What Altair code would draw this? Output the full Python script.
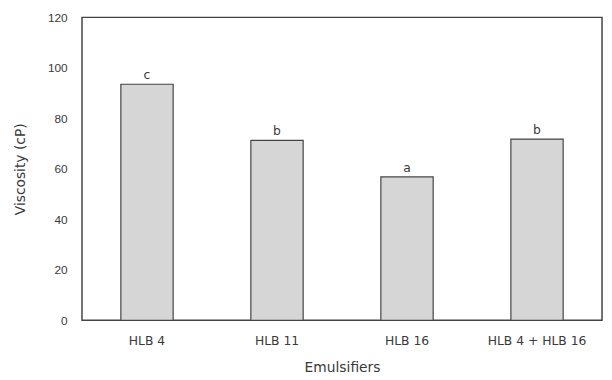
import altair as alt
import pandas as pd

categories = ["HLB 4", "HLB 11", "HLB 16", "HLB 4 + HLB 16"]
viscosity = [93.5, 71.3, 56.8, 71.8]
letters = ["c", "b", "a", "b"]
y_ticks = [0, 20, 40, 60, 80, 100, 120]

df = pd.DataFrame({"cat": categories, "v": viscosity, "lab": letters})

wide = "DejaVu Sans"
narrow = "Liberation Sans"
x = alt.X("cat:N", sort=categories, title="Emulsifiers",
          scale=alt.Scale(paddingInner=0, paddingOuter=0),
          axis=alt.Axis(labelAngle=0, tickSize=0, domain=False, labelPadding=15,
                        labelFontSize=12.5, titleFontSize=14, titlePadding=13,
                        labelFont=wide, titleFont=wide, labelColor="#3a3a3a",
                        titleColor="#3a3a3a", titleFontWeight="normal"))
y = alt.Y("v:Q", title="Viscosity (cP)",
          scale=alt.Scale(domain=[0, 120], nice=False),
          axis=alt.Axis(values=y_ticks, tickSize=0, domain=False, grid=False,
                        labelPadding=15, labelFontSize=12, titleFontSize=14,
                        titlePadding=20, labelFont=narrow, titleFont=wide,
                        labelColor="#3a3a3a", titleColor="#3a3a3a",
                        titleFontWeight="normal"))

bars = alt.Chart(df).mark_bar(size=53, color="#d6d6d6", stroke="#444",
                              strokeWidth=1.2).encode(x=x, y=y)
text = alt.Chart(df).mark_text(dy=-9, fontSize=12.5, font=wide, color="#3a3a3a").encode(
    x=alt.X("cat:N", sort=categories), y="v:Q", text="lab:N")

chart = (bars + text).properties(
    width=527, height=307,
    background="white",
    autosize=alt.AutoSizeParams(type="none"),
    padding={"left": 75, "top": 7, "right": 2, "bottom": 58},
).configure_view(stroke="#444", strokeWidth=1.5)

chart.save("out.html", embed_options={"renderer": "svg", "actions": False})
